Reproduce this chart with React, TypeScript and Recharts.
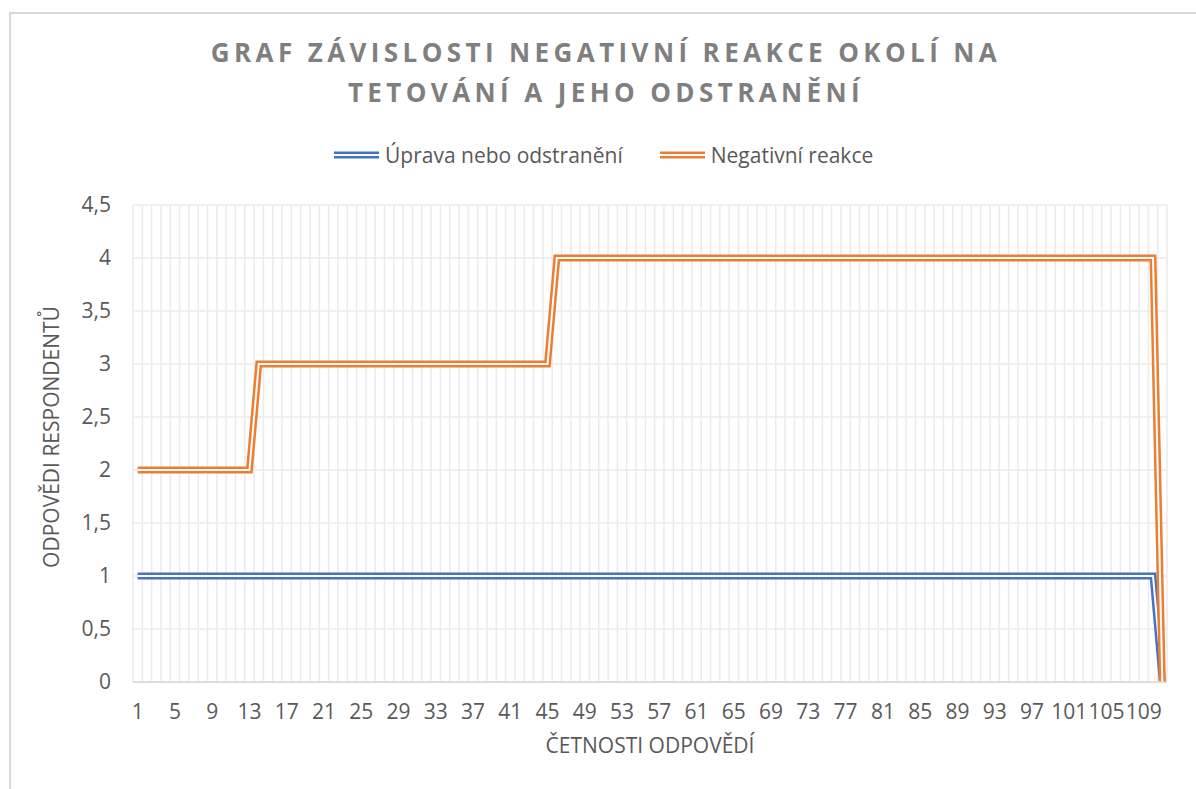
import React from 'react';
import { LineChart, Line, XAxis, YAxis, CartesianGrid } from 'recharts';

// Series values (one value per response, categories 1..111)
const upravaNeboOdstraneni = [
  1, 1, 1, 1, 1, 1, 1, 1, 1, 1,
  1, 1, 1, 1, 1, 1, 1, 1, 1, 1,
  1, 1, 1, 1, 1, 1, 1, 1, 1, 1,
  1, 1, 1, 1, 1, 1, 1, 1, 1, 1,
  1, 1, 1, 1, 1, 1, 1, 1, 1, 1,
  1, 1, 1, 1, 1, 1, 1, 1, 1, 1,
  1, 1, 1, 1, 1, 1, 1, 1, 1, 1,
  1, 1, 1, 1, 1, 1, 1, 1, 1, 1,
  1, 1, 1, 1, 1, 1, 1, 1, 1, 1,
  1, 1, 1, 1, 1, 1, 1, 1, 1, 1,
  1, 1, 1, 1, 1, 1, 1, 1, 1, 1,
  0,
];

const negativniReakce = [
  2, 2, 2, 2, 2, 2, 2, 2, 2, 2,
  2, 2, 2, 3, 3, 3, 3, 3, 3, 3,
  3, 3, 3, 3, 3, 3, 3, 3, 3, 3,
  3, 3, 3, 3, 3, 3, 3, 3, 3, 3,
  3, 3, 3, 3, 3, 4, 4, 4, 4, 4,
  4, 4, 4, 4, 4, 4, 4, 4, 4, 4,
  4, 4, 4, 4, 4, 4, 4, 4, 4, 4,
  4, 4, 4, 4, 4, 4, 4, 4, 4, 4,
  4, 4, 4, 4, 4, 4, 4, 4, 4, 4,
  4, 4, 4, 4, 4, 4, 4, 4, 4, 4,
  4, 4, 4, 4, 4, 4, 4, 4, 4, 4,
  0,
];

const categories = upravaNeboOdstraneni.map((_, i) => i + 1);

const xTicks = [1, 5, 9, 13, 17, 21, 25, 29, 33, 37, 41, 45, 49, 53, 57, 61, 65, 69, 73, 77, 81, 85, 89, 93, 97, 101, 105, 109];
const yTicks = [0, 0.5, 1, 1.5, 2, 2.5, 3, 3.5, 4, 4.5];

const seriesNames = ['Úprava nebo odstranění', 'Negativní reakce'];
const seriesColors = ['#4472C4', '#ED7D31'];
const titleLines = ['GRAF ZÁVISLOSTI NEGATIVNÍ REAKCE OKOLÍ NA', 'TETOVÁNÍ A JEHO ODSTRANĚNÍ'];
const xTitle = 'ČETNOSTI ODPOVĚDÍ';
const yTitle = 'ODPOVĚDI RESPONDENTŮ';

const data = categories.map((c, i) => ({
  x: c,
  uprava: upravaNeboOdstraneni[i],
  negativni: negativniReakce[i],
}));

const textColor = '#595959';
const gridColor = '#EBEBEB';
const fontSize = 21;

const boundaryGenerator = (props: any) => {
  const n = categories.length;
  const ks = [0, ...categories];
  const scale = props?.xAxis?.scale;
  if (scale && typeof scale === 'function') {
    return ks.map((k) => scale(k + 0.5));
  }
  const off = props.offset;
  return ks.map((k) => off.left + (k * off.width) / n);
};

const LegendSwatch = ({ color }: { color: string }) => (
  <svg width={45} height={10} style={{ display: 'block' }}>
    <line x1={0} y1={5} x2={45} y2={5} stroke={color} strokeWidth={7} />
    <line x1={0} y1={5} x2={45} y2={5} stroke="#FFFFFF" strokeWidth={2} />
  </svg>
);

export default function App() {
  return (
    <div
      style={{
        position: 'absolute',
        left: 0,
        top: 0,
        width: 1196,
        height: 789,
        background: '#FFFFFF',
        fontFamily: '"Open Sans", sans-serif',
        overflow: 'hidden',
      }}
    >
      <div
        style={{
          position: 'absolute',
          left: 9,
          top: 12,
          width: 1300,
          height: 900,
          borderTop: '2px solid #D9D9D9',
          borderLeft: '2px solid #D9D9D9',
        }}
      />
      <div
        style={{
          position: 'absolute',
          left: 0,
          top: 32,
          width: 1212,
          textAlign: 'center',
          color: '#7F7F7F',
          fontWeight: 700,
          fontSize: 26,
          letterSpacing: 4.4,
          lineHeight: '40px',
        }}
      >
        {titleLines.map((t) => (
          <div key={t}>{t}</div>
        ))}
      </div>
      <div
        style={{
          position: 'absolute',
          left: 334,
          top: 140,
          height: 30,
          display: 'flex',
          alignItems: 'center',
          color: textColor,
          fontSize,
        }}
      >
        {seriesNames.map((name, i) => (
          <div key={name} style={{ display: 'flex', alignItems: 'center', marginRight: 37 }}>
            <LegendSwatch color={seriesColors[i]} />
            <span style={{ marginLeft: 6 }}>{name}</span>
          </div>
        ))}
      </div>
      <div style={{ position: 'absolute', left: 0, top: 0 }}>
        <LineChart
          width={1196}
          height={789}
          data={data}
          margin={{ top: 205, right: 29, bottom: 67, left: 73 }}
        >
          <CartesianGrid stroke={gridColor} strokeWidth={1.5} verticalCoordinatesGenerator={boundaryGenerator} />
          <XAxis
            type="number"
            dataKey="x"
            domain={[0.5, 111.5]}
            ticks={xTicks}
            interval={0}
            tickLine={false}
            axisLine={{ stroke: '#D9D9D9', strokeWidth: 1.5 }}
            tick={{ fill: textColor, fontSize }}
            tickSize={0}
            tickMargin={22}
            height={40}
          />
          <YAxis
            type="number"
            domain={[0, 4.5]}
            ticks={yTicks}
            interval={0}
            tickLine={false}
            axisLine={false}
            tick={{ fill: textColor, fontSize }}
            tickFormatter={(v: number) => String(v).replace('.', ',')}
            tickSize={0}
            tickMargin={22}
            width={60}
          />
          <Line type="linear" dataKey="uprava" stroke={seriesColors[0]} strokeWidth={7} strokeLinejoin="miter" dot={false} activeDot={false} isAnimationActive={false} />
          <Line type="linear" dataKey="uprava" stroke="#FFFFFF" strokeWidth={2} strokeLinejoin="miter" dot={false} activeDot={false} isAnimationActive={false} />
          <Line type="linear" dataKey="negativni" stroke={seriesColors[1]} strokeWidth={7} strokeLinejoin="miter" dot={false} activeDot={false} isAnimationActive={false} />
          <Line type="linear" dataKey="negativni" stroke="#FFFFFF" strokeWidth={2} strokeLinejoin="miter" dot={false} activeDot={false} isAnimationActive={false} />
        </LineChart>
      </div>
      <div
        style={{
          position: 'absolute',
          left: 450,
          top: 731,
          width: 400,
          textAlign: 'center',
          color: textColor,
          fontSize,
          lineHeight: '28px',
        }}
      >
        {xTitle}
      </div>
      <div
        style={{
          position: 'absolute',
          left: 51 - 200,
          top: 437 - 14,
          width: 400,
          height: 28,
          lineHeight: '28px',
          textAlign: 'center',
          color: textColor,
          fontSize,
          transform: 'rotate(-90deg)',
        }}
      >
        {yTitle}
      </div>
    </div>
  );
}
